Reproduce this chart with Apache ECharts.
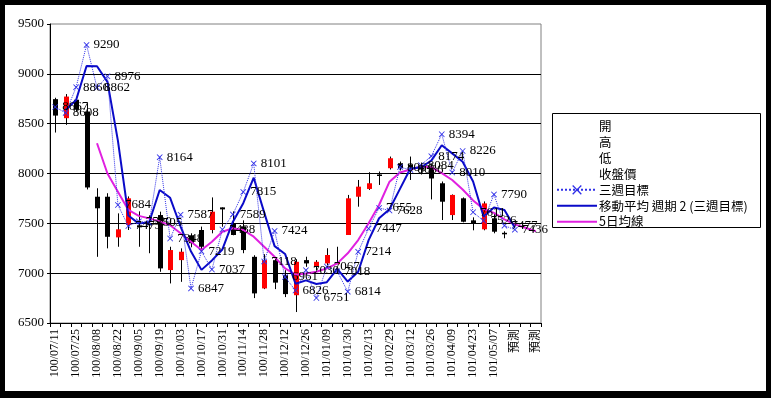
<!DOCTYPE html>
<html>
<head>
<meta charset="utf-8">
<script src="https://cdn.jsdelivr.net/npm/echarts@6/dist/echarts.min.js"></script>
<style>
  html, body { margin: 0; padding: 0; background: #000; }
  #wrap { position: relative; width: 771px; height: 398px; background: #000; }
  #paper { position: absolute; left: 5px; top: 5px; width: 761px; height: 386px; background: #fff; }
  #chart { position: absolute; left: 0; top: 0; width: 771px; height: 398px; }
</style>
</head>
<body>
<div id="wrap"><div id="paper"></div><div id="chart"></div></div>
<script>
// 週別類別
const categories = [
  '100/07/11', '100/07/18', '100/07/25', '100/08/01', '100/08/08', '100/08/15', '100/08/22', '100/08/29',
  '100/09/05', '100/09/12', '100/09/19', '100/09/26', '100/10/03', '100/10/10', '100/10/17', '100/10/24',
  '100/10/31', '100/11/07', '100/11/14', '100/11/21', '100/11/28', '100/12/05', '100/12/12', '100/12/19',
  '100/12/26', '101/01/02', '101/01/09', '101/01/16', '101/01/30', '101/02/06', '101/02/13', '101/02/20',
  '101/02/29', '101/03/05', '101/03/12', '101/03/19', '101/03/26', '101/04/02', '101/04/09', '101/04/16',
  '101/04/23', '101/04/30', '101/05/07', '101/05/14', '預測', '預測', '預測'
]
// 開 / 收盤價 / 低 / 高
const openData = [8746, 8555, 8740, 8622, 7767, 7767, 7359, 7483, 7480, 7500, 7583, 7031, 7131, 7380, 7433, 7433,
  7660, 7500, 7470, 7164, 6847, 7130, 6980, 6779, 7131, 7071, 7098, 7095, 7383, 7767, 7845, 7990,
  8053, 8103, 8090, 8080, 8050, 7902, 7583, 7751, 7530, 7440, 7550, 7405, null, null, null]
const closeData = [8581, 8772, 8640, 7860, 7651, 7365, 7440, 7751, 7460, 7480, 7048, 7232, 7215, 7300, 7265, 7617,
  7640, 7383, 7232, 6797, 7131, 6905, 6790, 7114, 7098, 7114, 7182, 7105, 7751, 7868, 7902, 7980,
  8153, 8053, 8060, 8040, 7950, 7717, 7785, 7516, 7500, 7700, 7416, 7400, null, null, null]
const lowData = [8411, 8488, 8620, 7840, 7164, 7249, 7265, 7433, 7265, 7200, 7014, 6897, 6913, 7260, 7215, 7400,
  7466, 7380, 7200, 6750, 6840, 6840, 6760, 6610, 7064, 7031, 7081, 7090, 7383, 7667, 7835, 7885,
  8040, 8030, 7935, 7990, 7740, 7533, 7533, 7510, 7430, 7430, 7400, 7350, null, null, null]
const highData = [8760, 8797, 8760, 8706, 7852, 7802, 7600, 7770, 7620, 7580, 7617, 7265, 7249, 7400, 7467, 7760,
  7660, 7620, 7530, 7180, 7190, 7150, 7030, 7140, 7165, 7131, 7250, 7265, 7785, 7935, 8013, 8020,
  8170, 8120, 8170, 8110, 8090, 7920, 7790, 7760, 7560, 7720, 7600, 7420, null, null, null]
// 三週目標
const targetData = [8667, 8608, 8866, 9290, 8862, 8976, 7684, 7473, 7520, 7505, 8164, 7348, 7587, 6847, 7219, 7037,
  7438, 7589, 7815, 8101, 7118, 7424, 6961, 6826, 7030, 6751, 7067, 7018, 6814, 7214, 7447, 7655,
  7628, 8064, 8036, 8084, 8174, 8394, 8010, 8226, 7611, 7526, 7790, 7477, 7436, null, null]
// 移動平均 週期 2 (三週目標)
const maData = [null, 8638, 8737, 9078, 9076, 8919, 8330, 7578, 7497, 7513, 7835, 7756, 7468, 7217, 7033, 7128,
  7238, 7514, 7702, 7958, 7610, 7271, 7193, 6894, 6928, 6891, 6909, 7043, 6916, 7014, 7331, 7551,
  7642, 7846, 8050, 8060, 8129, 8284, 8202, 8118, 7919, 7569, 7658, 7634, 7457, null, null]
// 5日均線
const ma5Data = [null, null, null, null, 8304, 8000, 7818, 7634, 7575, 7550, 7520, 7480, 7400, 7315, 7232, 7315,
  7416, 7450, 7433, 7366, 7265, 7164, 7048, 6985, 6997, 7014, 7048, 7098, 7199, 7332, 7500, 7684,
  7918, 8010, 8040, 8069, 8063, 8003, 7935, 7840, 7730, 7645, 7605, 7540, 7490, 7455, 7420]
const yTicks = [6500, 7000, 7500, 8000, 8500, 9000, 9500]

const numFont = 'Liberation Serif'
const cjkFont = 'Noto Sans CJK TC'
const xMark = 'path://M0,1L1,0L5,4L9,0L10,1L6,5L10,9L9,10L5,6L1,10L0,9L4,5Z'
const hidden = { opacity: 0 }

const candleData = []
categories.forEach((c, i) => {
  if (openData[i] != null) {
    candleData.push([i, openData[i], closeData[i], lowData[i], highData[i]])
  }
})

const chart = echarts.init(document.getElementById('chart'))
chart.setOption({
  backgroundColor: 'transparent',
  animation: false,
  graphic: [{
    type: 'rect',
    shape: { x: 552.5, y: 113.5, width: 208, height: 114 },
    style: { fill: 'none', stroke: '#000', lineWidth: 1 }
  }],
  legend: {
    orient: 'vertical',
    left: 551,
    top: 115,
    itemWidth: 40,
    itemHeight: 12,
    itemGap: 3.4,
    selectedMode: false,
    textStyle: { fontSize: 12.5, color: '#000', fontFamily: cjkFont, padding: [0, 0, 0, -3] },
    data: [
      { name: '開', icon: 'rect', itemStyle: hidden, lineStyle: hidden },
      { name: '高', icon: 'rect', itemStyle: hidden, lineStyle: hidden },
      { name: '低', icon: 'rect', itemStyle: hidden, lineStyle: hidden },
      { name: '收盤價', icon: 'rect', itemStyle: hidden, lineStyle: hidden },
      { name: '三週目標' },
      { name: '移動平均 週期 2 (三週目標)', itemStyle: hidden },
      { name: '5日均線', itemStyle: hidden }
    ]
  },
  grid: {
    left: 50,
    right: 230,
    top: 24,
    bottom: 75,
    show: true,
    borderColor: '#808080',
    borderWidth: 1,
    backgroundColor: '#fff'
  },
  xAxis: {
    type: 'category',
    data: categories,
    boundaryGap: true,
    axisLine: { lineStyle: { color: '#000', width: 1 } },
    axisTick: { show: true, interval: 0, length: 4, lineStyle: { color: '#000' } },
    axisLabel: {
      interval: 1,
      rotate: 90,
      margin: 6,
      fontSize: 12,
      color: '#000',
      fontFamily: numFont + ', ' + cjkFont
    },
    splitLine: { show: false }
  },
  yAxis: {
    type: 'value',
    min: yTicks[0],
    max: yTicks[yTicks.length - 1],
    interval: 500,
    axisLine: { show: true, lineStyle: { color: '#000', width: 1 } },
    axisTick: { show: true, length: 3, lineStyle: { color: '#000' } },
    axisLabel: { fontSize: 13, color: '#000', margin: 6, fontFamily: numFont, formatter: v => String(v) },
    splitLine: { show: true, showMaxLine: false, lineStyle: { color: '#000', width: 1 } }
  },
  series: [
    { name: '開', type: 'line', data: [] },
    { name: '高', type: 'line', data: [] },
    { name: '低', type: 'line', data: [] },
    { name: '收盤價', type: 'line', data: [] },
    {
      name: 'candles',
      type: 'custom',
      z: 2,
      data: candleData,
      encode: { x: 0, y: [1, 2, 3, 4] },
      renderItem(params, api) {
        const i = api.value(0)
        const o = api.value(1)
        const c = api.value(2)
        const pO = api.coord([i, o])
        const pC = api.coord([i, c])
        const pL = api.coord([i, api.value(3)])
        const pH = api.coord([i, api.value(4)])
        const x = Math.round(pO[0]) + 0.5
        const top = Math.min(pO[1], pC[1])
        const h = Math.max(1.5, Math.abs(pO[1] - pC[1]))
        return {
          type: 'group',
          children: [
            { type: 'line', shape: { x1: x, y1: pH[1], x2: x, y2: pL[1] }, style: { stroke: '#000', lineWidth: 1 } },
            { type: 'rect', shape: { x: x - 2.5, y: top, width: 5, height: h }, style: { fill: c > o ? '#ff0000' : '#000' } }
          ]
        }
      }
    },
    {
      name: '5日均線',
      type: 'line',
      z: 3,
      data: ma5Data,
      symbol: 'none',
      lineStyle: { color: '#e020e0', width: 2 },
      itemStyle: { color: '#e020e0' }
    },
    {
      name: '移動平均 週期 2 (三週目標)',
      type: 'line',
      z: 4,
      data: maData,
      symbol: 'none',
      lineStyle: { color: '#0a0ac8', width: 2 },
      itemStyle: { color: '#0a0ac8' }
    },
    {
      name: '三週目標',
      type: 'line',
      z: 5,
      data: targetData,
      symbol: xMark,
      symbolSize: 6,
      lineStyle: { color: '#3030e8', width: 1, type: 'dotted' },
      itemStyle: { color: '#3030e8' },
      label: {
        show: true,
        position: 'right',
        distance: 4,
        fontSize: 13,
        color: '#000',
        fontFamily: numFont
      }
    }
  ]
})
</script>
</body>
</html>
